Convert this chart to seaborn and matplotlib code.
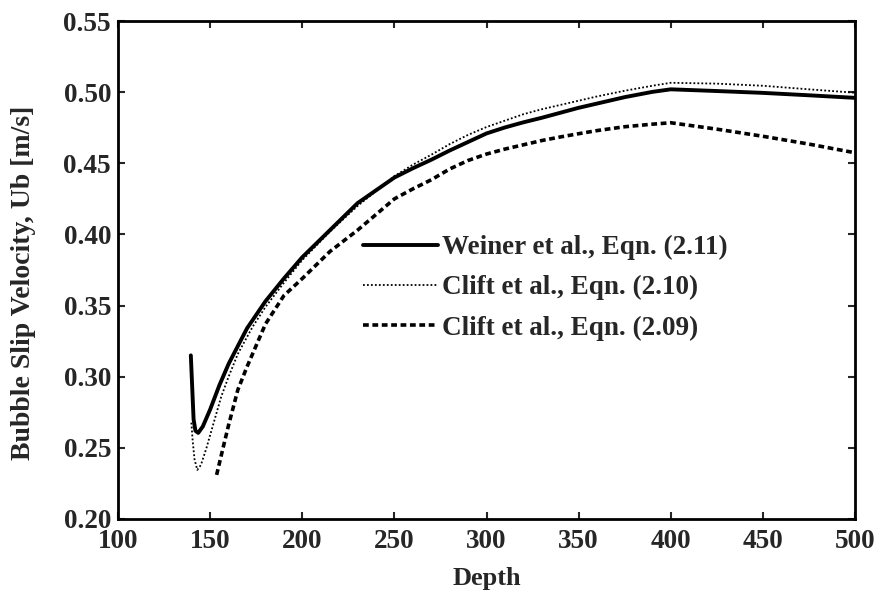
import matplotlib
matplotlib.use("Agg")
import matplotlib.pyplot as plt
import seaborn as sns
import pandas as pd

# Slip velocity curves versus depth for three correlations
weiner_depth = [139.5, 141, 142, 143.5, 146, 150, 155, 160, 170, 180, 190, 200,
                215, 230, 250, 260, 270, 280, 290, 300, 310, 320, 330, 340, 350,
                360, 375, 390, 400, 425, 450, 475, 500]
weiner_ub = [0.315, 0.270, 0.262, 0.2605, 0.265, 0.277, 0.294, 0.309, 0.334, 0.353,
             0.369, 0.384, 0.403, 0.422, 0.440, 0.4465, 0.4525, 0.459, 0.465, 0.471,
             0.4752, 0.4788, 0.482, 0.4855, 0.489, 0.492, 0.4965, 0.5002, 0.502,
             0.5008, 0.4995, 0.4978, 0.496]

clift210_depth = [139.8, 140.5, 141.5, 143, 145, 148, 152, 156, 160, 165, 173, 180,
                  190, 200, 215, 230, 250, 260, 270, 280, 290, 300, 310, 320, 330,
                  340, 350, 360, 375, 390, 400, 425, 450, 475, 500]
clift210_ub = [0.2677, 0.255, 0.242, 0.2345, 0.238, 0.250, 0.268, 0.286, 0.300, 0.316,
               0.335, 0.349, 0.366, 0.382, 0.402, 0.420, 0.441, 0.449, 0.456, 0.4635,
               0.470, 0.4755, 0.480, 0.4845, 0.488, 0.491, 0.494, 0.497, 0.501,
               0.5045, 0.5066, 0.506, 0.5045, 0.502, 0.4996]

clift209_depth = [153.5, 157, 160, 165, 170, 180, 190, 200, 215, 230, 250, 260, 270,
                  280, 290, 300, 310, 320, 330, 340, 350, 360, 375, 390, 400, 425,
                  450, 475, 500]
clift209_ub = [0.231, 0.250, 0.266, 0.2907, 0.307, 0.337, 0.357, 0.369, 0.388, 0.403,
               0.425, 0.432, 0.4384, 0.446, 0.452, 0.4565, 0.460, 0.463, 0.466,
               0.4685, 0.4708, 0.473, 0.4757, 0.4775, 0.4785, 0.474, 0.469, 0.4635,
               0.4574]

labels = ["Weiner et al., Eqn. (2.11)", "Clift et al., Eqn. (2.10)",
          "Clift et al., Eqn. (2.09)"]
x_ticks = [100, 150, 200, 250, 300, 350, 400, 450, 500]
y_ticks = [0.20, 0.25, 0.30, 0.35, 0.40, 0.45, 0.50, 0.55]

frames = []
for name, d, u in zip(labels, [weiner_depth, clift210_depth, clift209_depth],
                      [weiner_ub, clift210_ub, clift209_ub]):
    frames.append(pd.DataFrame({"Depth": d, "Ub": u, "model": name}))
df = pd.concat(frames, ignore_index=True)

sns.set_style("ticks", {"xtick.direction": "in", "ytick.direction": "in"})
plt.rcParams["font.family"] = ["Liberation Serif", "DejaVu Serif"]
plt.rcParams["font.weight"] = "bold"

fig, ax = plt.subplots(figsize=(8.81, 5.94), dpi=100)
fig.subplots_adjust(left=0.134, right=0.9705, top=0.9646, bottom=0.1263)

styles = {
    labels[0]: dict(linewidth=2.8, linestyle="-"),
    labels[1]: dict(linewidth=1.3, linestyle=(0, (1.0, 1.2))),
    labels[2]: dict(linewidth=2.6, linestyle=(0, (1.6, 1.0))),
}
for name in labels:
    sub = df[df["model"] == name]
    sns.lineplot(data=sub, x="Depth", y="Ub", ax=ax, color="black",
                 estimator=None, sort=False, label=name, **styles[name])

ax.set_xlim(100, 500)
ax.set_ylim(0.20, 0.55)
ax.set_xticks(x_ticks)
ax.set_yticks(y_ticks)
ax.set_xticklabels([str(t) for t in x_ticks], fontsize=19.5, fontweight="bold")
ax.set_yticklabels([f"{t:.2f}" for t in y_ticks], fontsize=19.5, fontweight="bold")
ax.tick_params(top=True, right=True, length=5, width=1.5)
ax.tick_params(axis="x", pad=7.5)
ax.tick_params(axis="y", pad=5)
for s in ax.spines.values():
    s.set_visible(True)
    s.set_linewidth(2.0)
    s.set_color("black")

ax.set_xlabel("Depth", fontsize=19, fontweight="bold", labelpad=9)
ax.set_ylabel("Bubble Slip Velocity, Ub [m/s]", fontsize=20, fontweight="bold")
ax.yaxis.set_label_coords(-0.112, 0.475)

leg = ax.legend(loc="upper left", bbox_to_anchor=(0.318, 0.592), frameon=False,
                fontsize=19.5, handlelength=2.75, handletextpad=0.15,
                labelspacing=0.56, borderaxespad=0)
for t in leg.get_texts():
    t.set_fontweight("bold")

fig.savefig("out.png", dpi=100)
